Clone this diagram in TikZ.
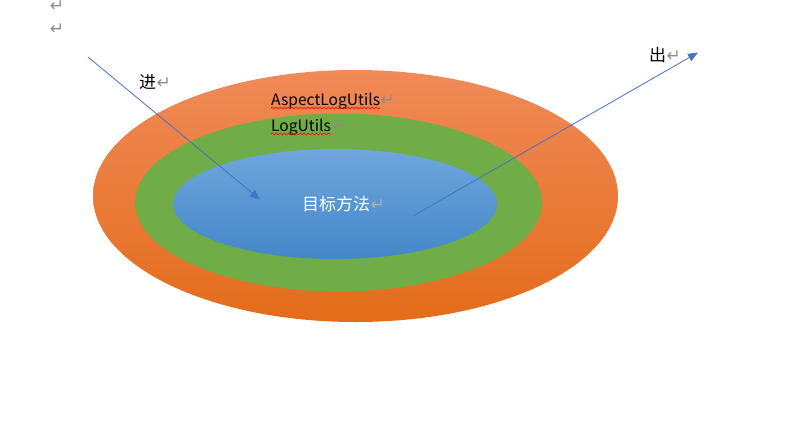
\documentclass[tikz,border=0pt]{standalone}
\usepackage{fontspec}
\setmainfont{Noto Sans CJK SC}
\newfontfamily\symfont{DejaVu Sans}
\usetikzlibrary{arrows.meta,decorations.pathmorphing,shapes.geometric}
\definecolor{orgtop}{HTML}{F08A58}
\definecolor{orgmid}{HTML}{F47F2B}
\definecolor{orgbot}{HTML}{E46C1A}
\definecolor{grn}{HTML}{70AD47}
\definecolor{blutop}{HTML}{70A6DC}
\definecolor{blubot}{HTML}{4287C9}
\definecolor{arr}{HTML}{4472C4}
\definecolor{pm}{HTML}{8C8C8C}
\tikzset{
  ring/.style={ellipse, inner sep=0pt, draw=none},
  lbl/.style={inner sep=0pt, font=\fontsize{17}{20}\selectfont, text=black},
  latin/.style={inner sep=0pt, font=\fontsize{15.6}{18}\selectfont, text=black},
  retmark/.style={inner sep=0pt, font=\symfont\fontsize{17}{19}\selectfont, text=pm},
  flow/.style={draw=arr, line width=0.8pt, -{Triangle[length=10pt,width=8pt]}},
  spell/.style={draw=red, line width=0.6pt, decorate, decoration={snake, segment length=4pt, amplitude=1pt}}
}
\begin{document}
\begin{tikzpicture}[x=1pt,y=-1pt]
\useasboundingbox (0,0) rectangle (800,429);
\fill[white] (0,0) rectangle (800,429);
% ellipses
\node[ring, minimum width=525pt, minimum height=252pt, top color=orgtop, middle color=orgmid, bottom color=orgbot] (outer) at (355.5,196) {};
\node[ring, minimum width=407pt, minimum height=178pt, fill=grn] (middle) at (338.5,202.5) {};
\node[ring, minimum width=324pt, minimum height=110pt, top color=blutop, bottom color=blubot] (inner) at (335,204) {};
% texts
\node[latin, anchor=base west] (asp) at (271,105) {AspectLogUtils};
\node[retmark, anchor=base west] (r3) at (asp.base east) {↵};
\node[latin, anchor=base west] (log) at (271,131) {LogUtils};
\node[retmark, anchor=base west] (r4) at (log.base east) {↵};
\draw[spell] ([yshift=-3pt]asp.base west) -- ([yshift=-3pt]asp.base east);
\draw[spell] ([yshift=-3pt]log.base west) -- ([yshift=-3pt]log.base east);
\node[lbl, text=white, anchor=base west] (tgt) at (302,210) {目标方法};
\node[retmark, text=pm!70!white, anchor=base west] (r5) at (tgt.base east) {↵};
\node[lbl, anchor=base west] (jin) at (139,88) {进};
\node[retmark, anchor=base west] (r6) at (jin.base east) {↵};
\node[lbl, anchor=base west] (chu) at (649,61) {出};
\node[retmark, anchor=base west] (r7) at (chu.base east) {↵};
\node[retmark] (r1) at (57,6) {↵};
\node[retmark] (r2) at (57,29) {↵};
% arrows
\coordinate (inS) at (88,57);
\coordinate (inE) at (260,199.5);
\coordinate (outS) at (413,216);
\coordinate (outE) at (698,52.5);
\draw[flow] (inS) -- (inE);
\draw[flow] (outS) -- (outE);
\end{tikzpicture}
\end{document}
